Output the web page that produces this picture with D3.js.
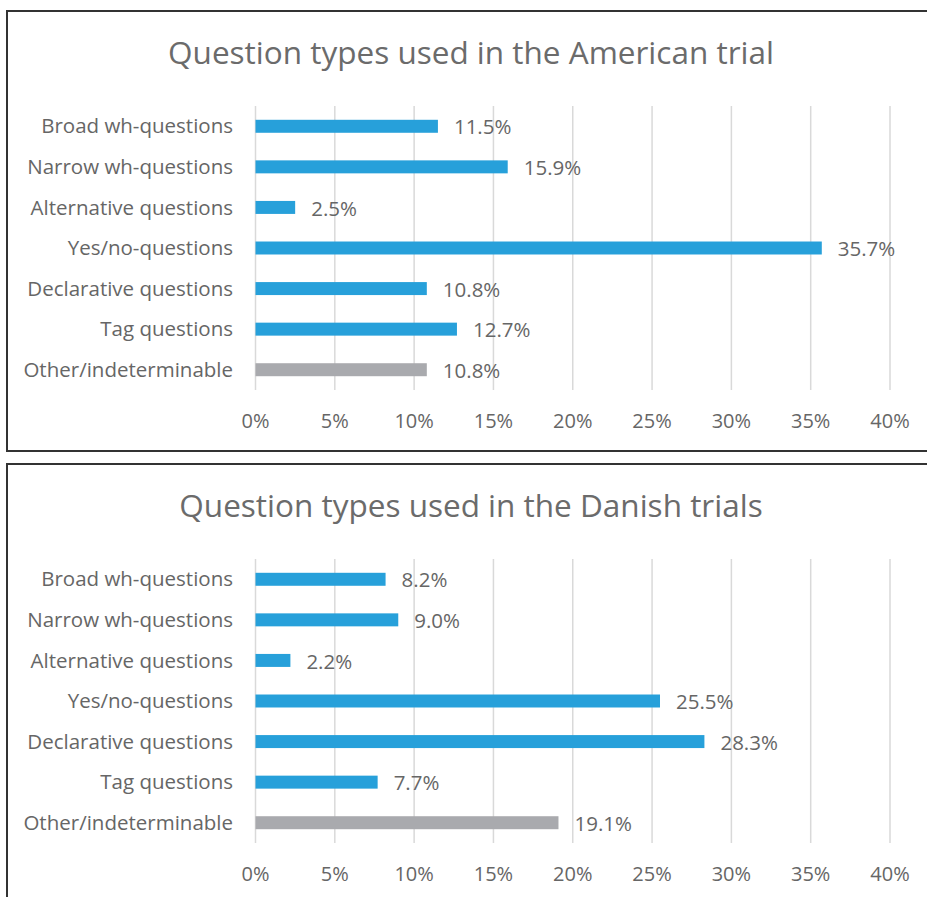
<!DOCTYPE html>
<html>
<head>
<meta charset="utf-8">
<script src="https://cdn.jsdelivr.net/npm/d3@7.9.0/dist/d3.min.js"></script>
<style>
  body { margin: 0; background: #fff; }
  svg { display: block; font-family: "Open Sans", sans-serif; }
</style>
</head>
<body>
<div id="chart"></div>
<script>
// categories, top to bottom
const categories = [
  "Broad wh-questions",
  "Narrow wh-questions",
  "Alternative questions",
  "Yes/no-questions",
  "Declarative questions",
  "Tag questions",
  "Other/indeterminable"
];

const americanValues = [11.5, 15.9, 2.5, 35.7, 10.8, 12.7, 10.8];
const danishValues = [8.2, 9.0, 2.2, 25.5, 28.3, 7.7, 19.1];

const xTicks = [0, 5, 10, 15, 20, 25, 30, 35, 40];

const panels = [
  {title: "Question types used in the American trial", values: americanValues},
  {title: "Question types used in the Danish trials", values: danishValues}
];

var width = 927, height = 897;
var panelStep = 453;

var svg = d3.select("#chart")
    .append("svg")
    .attr("width", width)
    .attr("height", height);

var x = d3.scaleLinear()
    .domain([0, 40])
    .range([255.5, 890]);

var y = d3.scaleBand()
    .domain(categories)
    .range([106, 390])
    .paddingInner(0.68)
    .paddingOuter(0.34);

panels.forEach((p, i) => {
    var g = svg.append("g")
        .attr("transform", "translate(0," + (i * panelStep) + ")");

    // panel frame
    g.append("rect")
        .attr("x", 7)
        .attr("y", 11)
        .attr("width", 940)
        .attr("height", 440)
        .attr("fill", "none")
        .attr("stroke", "#333")
        .attr("stroke-width", 2);

    g.append("text")
        .attr("x", 471)
        .attr("y", 64)
        .attr("text-anchor", "middle")
        .attr("font-size", 31.5)
        .attr("fill", "#6b6b6b")
        .text(p.title);

    // gridlines
    g.selectAll(".grid")
        .data(xTicks)
        .enter()
        .append("line")
        .attr("x1", d => x(d))
        .attr("x2", d => x(d))
        .attr("y1", 106)
        .attr("y2", 390)
        .attr("stroke", "#d9d9d9")
        .attr("stroke-width", 1.5);

    // x tick labels
    g.selectAll(".tick")
        .data(xTicks)
        .enter()
        .append("text")
        .attr("x", d => x(d))
        .attr("y", 428)
        .attr("text-anchor", "middle")
        .attr("font-size", 20)
        .attr("fill", "#666")
        .text(d => d + "%");

    // category labels
    g.selectAll(".cat")
        .data(categories)
        .enter()
        .append("text")
        .attr("x", 233)
        .attr("y", d => y(d) + y.bandwidth() / 2)
        .attr("dy", "0.35em")
        .attr("text-anchor", "end")
        .attr("font-size", 20.5)
        .attr("fill", "#666")
        .text(d => d);

    // bars
    g.selectAll(".bar")
        .data(p.values)
        .enter()
        .append("rect")
        .attr("x", x(0))
        .attr("y", (d, j) => y(categories[j]))
        .attr("width", d => x(d) - x(0))
        .attr("height", y.bandwidth())
        .attr("fill", (d, j) => j === categories.length - 1 ? "#a9aaae" : "#27a0da");

    // value labels
    g.selectAll(".val")
        .data(p.values)
        .enter()
        .append("text")
        .attr("x", d => x(d) + 16)
        .attr("y", (d, j) => y(categories[j]) + y.bandwidth() / 2 + 1)
        .attr("dy", "0.35em")
        .attr("font-size", 20.5)
        .attr("fill", "#666")
        .text(d => d.toFixed(1) + "%");
});
</script>
</body>
</html>
